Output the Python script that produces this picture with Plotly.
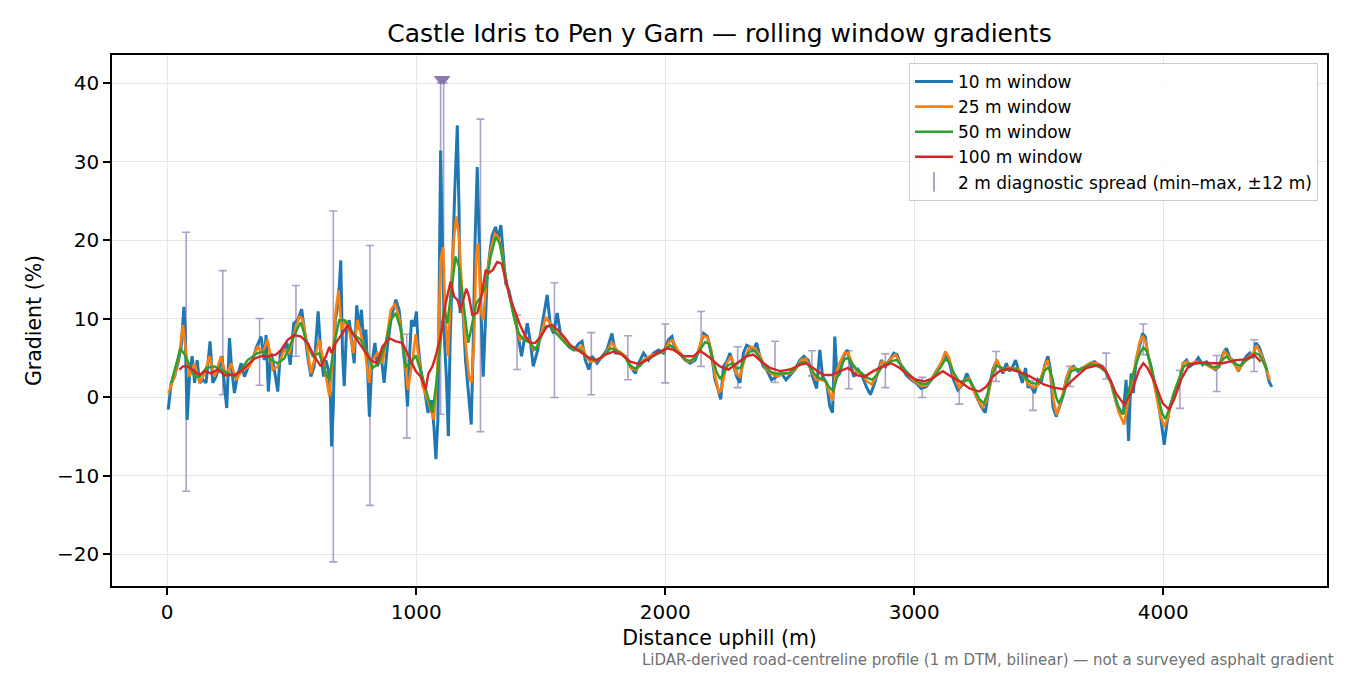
import plotly.graph_objects as go

# (distance m, gradient %)
win10_pts = [
    (4, -1.6), (16, 1.8), (29, 2.6), (43, 4.3), (56, 6.4), (67, 11.5), (72, 8.5), (80, -2.9),
    (90, 3.0), (100, 5.2), (110, 1.8), (120, 4.7), (130, 1.8), (143, 2.2), (156, 1.8), (172, 7.1),
    (183, 1.8), (196, 2.6), (210, 3.9), (220, 5.2), (230, 1.4), (239, -1.4), (250, 7.5), (259, 3.5),
    (270, 0.5), (281, 2.6), (297, 4.3), (310, 2.6), (326, 3.9), (343, 4.7), (359, 6.4), (377, 7.7),
    (390, 4.7), (397, 7.9), (406, 0.7), (417, 5.6), (428, 3.9), (444, 0.7), (454, 5.6), (468, 6.0),
    (481, 6.9), (494, 4.1), (508, 9.4), (524, 9.8), (540, 11.2), (550, 8.6), (564, 5.2), (577, 2.6),
    (590, 3.9), (606, 10.9), (617, 5.6), (628, 2.6), (637, 4.7), (647, 3.5), (655, 0.5), (660, -6.3),
    (667, -1.2), (675, 9.8), (684, 11.5), (691, 14.1), (697, 17.4), (704, 5.6), (711, 1.4), (720, 8.6),
    (731, 9.8), (740, 7.3), (751, 4.3), (761, 11.7), (771, 8.6), (780, 11.1), (791, 6.0), (798, 8.6),
    (804, 3.5), (812, -2.5), (822, 4.3), (834, 6.9), (844, 3.9), (858, 5.6), (871, 1.8), (884, 6.4),
    (900, 10.2), (918, 12.4), (931, 11.1), (944, 7.3), (955, 3.9), (965, -1.2), (971, 3.9), (981, 9.8),
    (991, 9.0), (1001, 10.9), (1007, 6.9), (1018, 3.5), (1034, 0.9), (1047, -2.0), (1061, -0.4),
    (1071, -3.7), (1079, -7.9), (1087, -2.9), (1092, 15.3), (1098, 31.4), (1105, 19.6), (1114, 6.9),
    (1121, 2.6), (1129, -5.0), (1136, 6.9), (1145, 17.5), (1154, 25.5), (1165, 34.6), (1172, 23.8),
    (1176, 10.7), (1185, 12.8), (1198, 4.7), (1212, 0.1), (1221, -3.5), (1229, 6.9), (1236, 19.6),
    (1245, 29.3), (1252, 19.6), (1261, 10.2), (1269, 2.6), (1276, 9.4), (1285, 15.3), (1295, 18.3),
    (1305, 20.6), (1319, 21.7), (1329, 20.0), (1340, 21.9), (1349, 18.3), (1359, 14.5), (1372, 13.6),
    (1385, 11.9), (1399, 9.8), (1412, 7.3), (1423, 5.2), (1432, 6.9), (1446, 9.4), (1459, 6.9),
    (1470, 3.9), (1488, 6.0), (1506, 9.4), (1526, 13.0), (1539, 9.0), (1552, 8.1), (1566, 10.7),
    (1579, 8.1), (1595, 7.3), (1613, 6.4), (1633, 6.0), (1653, 6.8), (1666, 7.1), (1679, 4.7),
    (1693, 3.5), (1706, 5.2), (1726, 4.3), (1746, 5.2), (1766, 6.0), (1786, 8.1), (1800, 5.6),
    (1820, 5.6), (1840, 5.2), (1860, 3.9), (1880, 3.0), (1893, 4.3), (1913, 5.6), (1933, 4.7),
    (1953, 5.6), (1973, 6.0), (1993, 5.6), (2013, 7.3), (2027, 7.7), (2040, 6.0), (2060, 5.6),
    (2080, 4.7), (2100, 4.3), (2120, 4.7), (2140, 6.4), (2154, 8.1), (2170, 7.7), (2187, 5.2),
    (2200, 2.2), (2213, 0.9), (2223, -0.3), (2234, 3.9), (2247, 4.5), (2260, 5.6), (2274, 3.9),
    (2287, 2.6), (2300, 1.8), (2314, 5.6), (2327, 6.6), (2340, 6.4), (2354, 6.0), (2367, 6.9),
    (2380, 5.2), (2394, 3.9), (2407, 3.5), (2427, 2.2), (2447, 2.6), (2467, 3.0), (2485, 2.2),
    (2501, 2.8), (2521, 3.5), (2541, 4.7), (2557, 5.2), (2574, 4.7), (2592, 2.6), (2608, 1.1),
    (2621, 6.0), (2632, 2.6), (2648, 1.8), (2661, -1.2), (2672, -2.0), (2681, 7.7), (2690, 2.6),
    (2701, 3.0), (2717, 5.2), (2731, 6.0), (2744, 4.3), (2757, 2.6), (2775, 3.5), (2792, 2.6),
    (2808, 1.3), (2824, 0.3), (2841, 1.8), (2855, 3.3), (2868, 4.7), (2885, 3.9), (2901, 4.7),
    (2918, 5.6), (2931, 5.4), (2948, 3.9), (2968, 2.8), (2988, 2.2), (3008, 1.8), (3028, 1.1),
    (3048, 1.3), (3069, 2.2), (3089, 3.3), (3109, 4.3), (3126, 5.6), (3142, 4.3), (3158, 2.2),
    (3175, 0.9), (3195, 1.6), (3211, 3.0), (3229, 1.8), (3249, 0.1), (3269, -1.2), (3285, -2.0),
    (3302, 1.3), (3316, 3.5), (3329, 4.5), (3343, 3.9), (3356, 3.0), (3370, 4.3), (3383, 3.3),
    (3396, 3.9), (3407, 4.7), (3420, 3.3), (3434, 1.8), (3447, 3.7), (3457, 1.3), (3470, 1.3),
    (3483, 0.5), (3497, 2.2), (3510, 1.8), (3523, 3.9), (3537, 5.2), (3547, 3.5), (3557, -1.2),
    (3570, -2.5), (3583, -1.2), (3597, 0.1), (3610, 2.2), (3624, 3.5), (3640, 3.9), (3657, 3.3),
    (3674, 3.7), (3690, 3.9), (3706, 4.3), (3724, 4.5), (3741, 4.1), (3757, 3.9), (3773, 3.0),
    (3791, 1.8), (3808, -0.3), (3824, -2.0), (3840, -2.0), (3851, 2.2), (3861, -5.6), (3871, 3.0),
    (3880, 0.5), (3891, 4.7), (3904, 6.4), (3917, 8.1), (3928, 7.7), (3937, 5.6), (3951, 3.9),
    (3964, 1.8), (3978, -0.3), (3991, -2.9), (4004, -6.1), (4015, -3.3), (4027, -1.2), (4038, -0.3),
    (4051, 0.5), (4067, 1.8), (4080, 4.3), (4094, 4.7), (4107, 3.9), (4125, 4.3), (4141, 5.0),
    (4158, 4.1), (4174, 4.5), (4191, 3.9), (4209, 3.5), (4225, 3.9), (4241, 5.6), (4254, 6.2),
    (4268, 5.0), (4285, 4.5), (4302, 3.3), (4318, 4.3), (4334, 5.2), (4348, 5.6), (4361, 5.0),
    (4372, 6.9), (4385, 6.4), (4398, 5.2), (4412, 3.9), (4425, 2.0), (4436, 1.3),
]

win25_pts = [
    (5, 0.5), (29, 2.6), (49, 5.6), (63, 9.2), (76, 5.6), (90, 2.6), (110, 4.3), (130, 1.8),
    (150, 3.0), (170, 5.2), (190, 2.6), (216, 5.2), (236, 2.6), (257, 4.3), (277, 2.2), (303, 3.5),
    (330, 3.9), (363, 6.4), (383, 5.6), (403, 7.3), (424, 3.5), (444, 3.9), (470, 6.0), (490, 5.6),
    (510, 8.1), (530, 10.2), (542, 10.0), (555, 8.0), (577, 3.0), (597, 5.6), (610, 7.3), (631, 3.9),
    (651, 0.1), (664, 4.7), (677, 11.1), (688, 13.6), (700, 8.6), (717, 9.8), (731, 8.6), (748, 5.6),
    (764, 9.8), (777, 8.1), (795, 5.6), (811, 1.8), (824, 4.7), (844, 5.6), (864, 4.3), (882, 7.7),
    (898, 11.1), (915, 11.9), (931, 10.2), (951, 5.6), (967, 0.9), (985, 4.7), (998, 8.0),
    (1025, 1.4), (1051, -0.8), (1071, -2.9), (1085, 3.5), (1098, 17.5), (1108, 19.1), (1116, 11.1),
    (1128, 5.2), (1138, 12.8), (1152, 20.4), (1161, 23.0), (1172, 20.4), (1185, 12.8), (1198, 6.9),
    (1212, 2.6), (1222, 1.8), (1232, 6.9), (1241, 18.3), (1249, 19.6), (1259, 11.1), (1269, 9.8),
    (1283, 15.3), (1299, 18.7), (1316, 20.8), (1329, 20.4), (1343, 18.7), (1359, 14.9), (1379, 12.4),
    (1399, 9.4), (1416, 7.3), (1432, 7.7), (1452, 7.3), (1472, 6.0), (1488, 6.5), (1506, 8.5),
    (1520, 10.2), (1535, 9.5), (1552, 8.5), (1566, 8.0), (1585, 7.5), (1605, 6.8), (1625, 6.2),
    (1645, 6.0), (1665, 6.5), (1685, 5.0), (1700, 4.5), (1720, 4.6), (1745, 5.0), (1766, 5.8),
    (1786, 7.0), (1805, 6.0), (1825, 5.6), (1845, 5.0), (1865, 3.6), (1885, 3.5), (1905, 4.5),
    (1925, 5.0), (1950, 5.4), (1975, 5.6), (1995, 5.8), (2015, 7.0), (2030, 7.2), (2050, 6.0),
    (2070, 5.0), (2090, 4.5), (2110, 4.6), (2130, 5.6), (2150, 7.8), (2170, 7.6), (2185, 6.0),
    (2200, 2.8), (2215, 0.6), (2225, 0.8), (2247, 4.3), (2265, 5.2), (2285, 3.0), (2300, 2.6),
    (2320, 5.0), (2340, 6.4), (2360, 6.2), (2380, 5.3), (2400, 3.8), (2425, 3.0), (2450, 2.6),
    (2475, 3.0), (2500, 3.0), (2525, 3.6), (2545, 4.7), (2565, 4.9), (2585, 3.6), (2605, 2.2),
    (2625, 2.2), (2645, 2.0), (2660, 0.5), (2672, -0.5), (2685, 3.0), (2700, 4.3), (2720, 5.6),
    (2735, 5.6), (2750, 4.3), (2770, 3.2), (2790, 3.0), (2810, 2.0), (2830, 1.6), (2850, 2.8),
    (2870, 4.5), (2890, 4.3), (2910, 5.0), (2925, 5.4), (2945, 4.2), (2970, 3.0), (2990, 2.3),
    (3010, 1.8), (3030, 1.4), (3050, 1.5), (3070, 2.3), (3090, 3.3), (3110, 4.5), (3125, 5.8),
    (3140, 5.0), (3160, 2.6), (3180, 1.2), (3200, 2.0), (3220, 2.4), (3240, 0.8), (3260, -0.6),
    (3275, -1.3), (3290, -0.5), (3305, 1.5), (3318, 3.5), (3332, 4.8), (3343, 3.9), (3360, 3.3),
    (3380, 3.8), (3400, 3.6), (3420, 3.6), (3440, 2.6), (3460, 1.6), (3480, 1.2), (3500, 1.6),
    (3520, 3.5), (3535, 4.7), (3550, 2.5), (3560, -0.5), (3572, -2.3), (3585, -1.0), (3600, 0.8),
    (3615, 2.7), (3630, 3.8), (3650, 3.6), (3670, 3.5), (3690, 4.0), (3710, 4.4), (3730, 4.3),
    (3750, 4.0), (3770, 3.3), (3790, 1.8), (3810, -0.5), (3825, -2.2), (3843, -3.5), (3855, -1.0),
    (3870, 1.5), (3890, 4.5), (3905, 7.0), (3918, 7.8), (3930, 7.0), (3945, 4.5), (3960, 2.3),
    (3975, 0.0), (3990, -2.5), (4005, -3.8), (4020, -2.5), (4035, -0.5), (4050, 0.8), (4065, 2.0),
    (4080, 4.3), (4095, 4.5), (4110, 4.2), (4130, 4.5), (4150, 4.4), (4170, 4.2), (4190, 3.8),
    (4210, 3.6), (4230, 4.2), (4245, 5.8), (4260, 5.3), (4280, 4.5), (4300, 3.4), (4320, 4.2),
    (4340, 5.0), (4360, 5.5), (4375, 6.6), (4390, 5.6), (4410, 4.0), (4428, 2.2),
]

win50_pts = [
    (16, 1.8), (36, 4.3), (53, 6.2), (70, 5.4), (90, 3.9), (110, 2.6), (130, 2.6), (156, 3.7),
    (190, 3.9), (216, 3.5), (243, 3.0), (270, 2.6), (297, 3.5), (323, 4.7), (363, 5.6), (390, 5.8),
    (417, 4.7), (444, 4.3), (470, 4.9), (497, 6.9), (524, 8.8), (537, 9.5), (557, 7.3), (584, 5.2),
    (610, 5.6), (637, 3.0), (651, 2.2), (671, 6.9), (691, 9.8), (711, 9.8), (731, 9.0), (751, 7.9),
    (777, 7.3), (804, 5.6), (824, 3.7), (851, 4.3), (878, 6.9), (898, 9.8), (918, 10.7), (938, 8.6),
    (958, 3.9), (978, 4.3), (998, 5.3), (1018, 3.3), (1045, 0.3), (1065, -2.0), (1081, 1.8),
    (1094, 5.6), (1112, 11.5), (1125, 9.4), (1142, 13.6), (1158, 17.9), (1172, 16.6), (1192, 11.1),
    (1209, 6.9), (1225, 9.4), (1241, 11.9), (1259, 12.8), (1279, 14.1), (1299, 17.9), (1319, 20.4),
    (1335, 19.6), (1352, 16.6), (1372, 13.2), (1392, 10.2), (1412, 8.1), (1432, 7.3), (1459, 6.9),
    (1479, 6.0), (1500, 7.5), (1520, 9.0), (1540, 9.0), (1560, 8.2), (1580, 7.5), (1600, 6.8),
    (1620, 6.3), (1640, 6.0), (1660, 6.0), (1680, 5.3), (1700, 4.8), (1720, 4.7), (1740, 5.0),
    (1760, 5.5), (1780, 6.2), (1800, 6.0), (1820, 5.6), (1840, 5.0), (1860, 4.0), (1880, 3.6),
    (1900, 4.0), (1920, 4.7), (1940, 5.0), (1960, 5.3), (1980, 5.6), (2000, 6.0), (2020, 6.6),
    (2040, 6.0), (2060, 5.3), (2080, 4.8), (2100, 4.6), (2120, 5.0), (2140, 6.0), (2160, 7.0),
    (2175, 6.8), (2190, 5.2), (2205, 3.3), (2220, 2.3), (2235, 3.0), (2250, 4.0), (2270, 4.3),
    (2290, 3.6), (2305, 3.8), (2320, 5.0), (2340, 5.8), (2360, 5.9), (2380, 5.0), (2400, 4.0),
    (2420, 3.3), (2440, 3.0), (2460, 3.0), (2480, 3.0), (2500, 3.1), (2520, 3.6), (2540, 4.3),
    (2560, 4.5), (2580, 3.9), (2600, 2.9), (2620, 2.4), (2640, 2.2), (2660, 1.2), (2675, 0.8),
    (2690, 2.5), (2705, 3.8), (2720, 4.8), (2735, 5.0), (2750, 4.3), (2770, 3.5), (2790, 3.0),
    (2810, 2.5), (2830, 2.2), (2850, 2.8), (2870, 3.8), (2890, 4.3), (2910, 4.6), (2930, 4.7),
    (2950, 4.0), (2970, 3.2), (2990, 2.6), (3010, 2.0), (3030, 1.7), (3050, 1.7), (3070, 2.2),
    (3090, 3.0), (3110, 4.0), (3125, 4.8), (3140, 4.5), (3160, 3.0), (3180, 2.0), (3200, 2.0),
    (3220, 2.2), (3240, 1.2), (3260, -0.2), (3280, -0.8), (3295, 0.5), (3310, 2.5), (3330, 4.0),
    (3350, 3.8), (3370, 3.5), (3390, 3.6), (3410, 3.6), (3430, 3.0), (3450, 2.3), (3470, 1.8),
    (3490, 1.7), (3510, 2.3), (3525, 3.4), (3540, 3.8), (3555, 2.4), (3570, 0.0), (3580, -0.8),
    (3600, 0.3), (3615, 2.0), (3630, 3.3), (3650, 3.5), (3670, 3.5), (3690, 3.8), (3710, 4.2),
    (3730, 4.0), (3750, 3.7), (3770, 3.2), (3790, 2.0), (3805, 0.3), (3820, -1.2), (3838, -2.2),
    (3850, -0.8), (3870, 2.0), (3890, 4.0), (3905, 5.5), (3920, 6.3), (3935, 5.8), (3950, 4.0),
    (3965, 2.0), (3980, -0.2), (3995, -2.0), (4008, -2.8), (4025, -1.5), (4040, 0.3), (4060, 2.0),
    (4080, 3.8), (4100, 4.2), (4120, 4.2), (4140, 4.3), (4160, 4.3), (4180, 4.1), (4200, 3.8),
    (4220, 3.9), (4240, 4.8), (4255, 5.2), (4270, 4.6), (4290, 4.2), (4310, 4.0), (4330, 4.6),
    (4350, 5.0), (4370, 5.6), (4385, 5.4), (4400, 4.6), (4418, 3.3),
]

win100_pts = [
    (49, 3.5), (63, 3.9), (83, 3.9), (110, 3.3), (130, 2.8), (150, 3.3), (176, 3.0), (203, 3.5),
    (230, 2.8), (270, 2.8), (297, 3.3), (323, 4.1), (350, 4.9), (377, 5.2), (403, 5.2), (437, 5.4),
    (457, 6.0), (484, 7.3), (510, 7.9), (537, 7.7), (564, 6.9), (590, 5.2), (617, 3.9), (637, 5.2),
    (651, 6.4), (660, 5.6), (677, 6.9), (704, 8.1), (724, 9.2), (744, 8.1), (771, 6.9), (798, 5.6),
    (818, 4.7), (842, 4.3), (864, 6.4), (891, 7.5), (918, 7.1), (944, 6.9), (971, 5.2), (998, 3.3),
    (1018, 2.6), (1038, 1.0), (1049, 3.0), (1065, 3.9), (1078, 5.2), (1098, 7.7), (1118, 11.9),
    (1138, 14.7), (1152, 12.8), (1165, 12.4), (1178, 11.1), (1192, 12.8), (1201, 13.8), (1212, 12.8),
    (1225, 10.5), (1245, 10.7), (1262, 12.8), (1279, 16.2), (1292, 15.8), (1308, 16.2), (1325, 17.2),
    (1343, 17.0), (1359, 14.9), (1379, 12.4), (1399, 10.7), (1419, 9.0), (1439, 7.7), (1459, 6.9),
    (1479, 6.9), (1499, 7.7), (1526, 9.0), (1546, 9.2), (1566, 8.6), (1593, 7.7), (1619, 6.6),
    (1646, 6.0), (1673, 5.4), (1699, 4.9), (1726, 4.7), (1759, 5.4), (1793, 5.8), (1826, 5.4),
    (1860, 4.5), (1893, 4.2), (1926, 4.7), (1967, 5.6), (2007, 6.2), (2033, 6.0), (2073, 5.2),
    (2113, 5.2), (2140, 5.9), (2160, 5.5), (2180, 5.0), (2200, 4.4), (2220, 3.9), (2254, 3.5),
    (2287, 4.3), (2327, 5.2), (2354, 5.4), (2387, 4.5), (2421, 3.7), (2461, 3.3), (2501, 3.5),
    (2541, 4.1), (2567, 4.3), (2601, 3.5), (2634, 2.8), (2668, 2.8), (2701, 3.3), (2735, 3.7),
    (2768, 2.8), (2801, 2.6), (2835, 3.3), (2875, 3.9), (2908, 4.3), (2942, 3.7), (2975, 2.8),
    (3008, 2.2), (3042, 2.0), (3075, 2.4), (3115, 3.3), (3149, 2.6), (3182, 2.0), (3222, 1.1),
    (3262, 0.7), (3289, 1.3), (3316, 2.6), (3343, 3.3), (3380, 3.6), (3420, 3.2), (3460, 2.7),
    (3490, 2.2), (3520, 1.6), (3560, 1.2), (3600, 1.0), (3630, 2.0), (3650, 2.6), (3690, 3.7),
    (3744, 4.1), (3770, 3.3), (3790, 2.0), (3810, 0.5), (3844, -1.0), (3871, 0.5), (3904, 3.5),
    (3920, 4.3), (3937, 3.7), (3964, 2.0), (3998, -0.8), (4024, -1.6), (4044, -0.3), (4071, 2.2),
    (4105, 4.1), (4145, 4.4), (4198, 4.3), (4238, 4.3), (4292, 4.7), (4332, 4.8), (4365, 5.4),
    (4392, 4.5),
]

# 2 m diagnostic spread: position, min, max
spread_x = [76, 223, 371, 517, 667, 814, 962, 1098, 1110, 1258, 1405, 1555, 1703, 1850, 2000,
            2144, 2291, 2441, 2589, 2737, 2884, 3032, 3181, 3329, 3477, 3626, 3771, 3920, 4067,
            4215, 4365]
spread_lo = [-12.0, 0.3, 1.5, 5.2, -21.0, -13.8, -5.2, -2.2, 9.6, -4.4, 3.5, -0.05, 0.3, 2.2, 1.8,
             3.9, 1.2, 1.85, 2.7, 1.05, 1.2, -0.05, -0.9, 2.0, -1.7, 1.35, 2.3, 5.4, -1.45, 0.7, 3.25]
spread_hi = [21.0, 16.1, 10.0, 14.2, 23.7, 19.3, 8.0, 40.0, 40.0, 35.4, 10.45, 14.56, 8.2, 7.8, 9.3,
             10.9, 6.4, 7.1, 5.9, 5.9, 5.5, 2.5, 1.64, 5.8, 2.1, 3.9, 5.6, 9.3, 3.4, 5.3, 7.3]
# spread tops that run off the scale
clipped_x = [1098, 1110]
clipped_y = [40.5, 40.5]

x_ticks = [0, 1000, 2000, 3000, 4000]
x_ticktext = ["0", "1000", "2000", "3000", "4000"]
y_ticks = [-20, -10, 0, 10, 20, 30, 40]
y_ticktext = ["\u221220", "\u221210", "0", "10", "20", "30", "40"]

FONT = "DejaVu Sans"
SPREAD_COLOR = "rgba(128,110,170,0.65)"
# the page body puts the figure 8px in from the top-left corner
PAGE_OFFSET = 8

fig = go.Figure()

# diagnostic spread as error bars around the midpoint
mid = [(h + l) / 2 for h, l in zip(spread_hi, spread_lo)]
half = [(h - l) / 2 for h, l in zip(spread_hi, spread_lo)]
fig.add_trace(
    go.Scatter(
        x=spread_x,
        y=mid,
        mode="markers",
        marker=dict(size=1, color="rgba(0,0,0,0)"),
        error_y=dict(type="data", array=half, symmetric=True,
                     color=SPREAD_COLOR, thickness=1.6, width=4),
        showlegend=False,
        hoverinfo="skip",
    )
)

series = [
    (win10_pts, "10 m window", "#1f77b4", 3.0),
    (win25_pts, "25 m window", "#ff7f0e", 2.6),
    (win50_pts, "50 m window", "#2ca02c", 2.4),
    (win100_pts, "100 m window", "#d62728", 2.4),
]
for pts, name, color, width in series:
    xs = [p[0] for p in pts]
    ys = [p[1] for p in pts]
    fig.add_trace(
        go.Scatter(x=xs, y=ys, mode="lines", name=name,
                   line=dict(color=color, width=width))
    )

fig.add_trace(
    go.Scatter(
        x=clipped_x,
        y=clipped_y,
        mode="markers",
        marker=dict(symbol="triangle-down", size=12, color="#8878ac"),
        showlegend=False,
        hoverinfo="skip",
    )
)

# legend-only entry for the spread
fig.add_trace(
    go.Scatter(
        x=[None],
        y=[None],
        mode="markers",
        name="2 m diagnostic spread (min\u2013max, \u00b112 m)",
        marker=dict(symbol="line-ns", size=14, line=dict(color=SPREAD_COLOR, width=2)),
    )
)

axis_common = dict(
    showline=True,
    linecolor="black",
    linewidth=1.6,
    mirror=True,
    ticks="outside",
    ticklen=7,
    tickwidth=1.6,
    tickcolor="black",
    showgrid=True,
    gridcolor="#e6e6e6",
    gridwidth=1.3,
    zeroline=False,
    tickfont=dict(family=FONT, size=20, color="black"),
)

fig.update_xaxes(
    range=[-221.8, 4657.8],
    tickvals=x_ticks,
    ticktext=x_ticktext,
    title=dict(text="Distance uphill (m)", font=dict(family=FONT, size=20.5, color="black"),
               standoff=8),
    **axis_common,
)
fig.update_yaxes(
    range=[-24.07, 43.57],
    tickvals=y_ticks,
    ticktext=y_ticktext,
    title=dict(text="Gradient (%)", font=dict(family=FONT, size=20.5, color="black"),
               standoff=10),
    **axis_common,
)

fig.add_annotation(
    text="LiDAR-derived road-centreline profile (1 m DTM, bilinear) \u2014 not a surveyed asphalt gradient",
    xref="paper", yref="paper",
    x=1.0074, y=-0.139,
    xanchor="right", yanchor="middle",
    showarrow=False,
    font=dict(family=FONT, size=15, color="#707070"),
)

fig_w = 1350 - PAGE_OFFSET
fig_h = 675 - PAGE_OFFSET
fig.update_layout(
    width=fig_w,
    height=fig_h,
    margin=dict(l=112 - PAGE_OFFSET, r=23, t=55 - PAGE_OFFSET, b=89),
    paper_bgcolor="white",
    plot_bgcolor="white",
    font=dict(family=FONT, color="black"),
    title=dict(
        text="Castle Idris to Pen y Garn \u2014 rolling window gradients",
        x=0.5, xref="paper",
        y=1 - (33 - PAGE_OFFSET) / fig_h, yref="container", yanchor="middle",
        font=dict(family=FONT, size=25, color="black"),
    ),
    legend=dict(
        x=0.9926, y=0.985,
        xanchor="right", yanchor="top",
        bgcolor="rgba(255,255,255,0.85)",
        bordercolor="#cccccc",
        borderwidth=1,
        itemwidth=38,
        font=dict(family=FONT, size=17, color="black"),
    ),
    showlegend=True,
)

fig.write_html("out.html")
